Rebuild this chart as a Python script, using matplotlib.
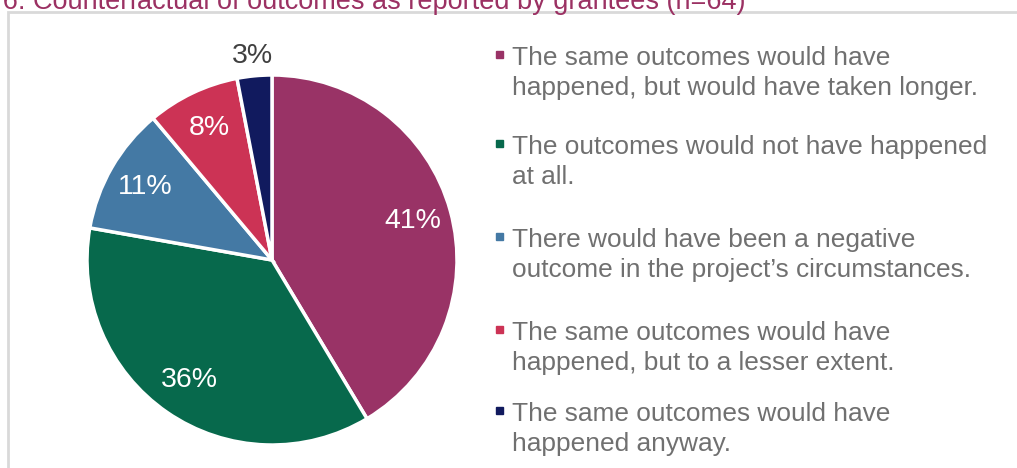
import matplotlib
matplotlib.use('Agg')
import matplotlib.pyplot as plt
import numpy as np
from matplotlib.patches import Rectangle

plt.rcParams['font.family'] = ['Liberation Sans', 'DejaVu Sans']

title = 'Figure 6: Counterfactual of outcomes as reported by grantees (n=64)'
categories = [
    'The same outcomes would have\nhappened, but would have taken longer.',
    'The outcomes would not have happened\nat all.',
    'There would have been a negative\noutcome in the project\u2019s circumstances.',
    'The same outcomes would have\nhappened, but to a lesser extent.',
    'The same outcomes would have\nhappened anyway.',
]
shares = [41, 36, 11, 8, 3]
pct_labels = ['41%', '36%', '11%', '8%', '3%']
colors = ['#993366', '#07694C', '#4479A4', '#CC3355', '#111A5E']

W, H = 1017, 468
fig = plt.figure(figsize=(W / 100, H / 100), dpi=100)

# grey frame, partly cut by the image edges
fig.patches.append(Rectangle((8 / W, -0.1), 1.2, 1 - 12 / H + 0.1,
                             transform=fig.transFigure, fill=False,
                             edgecolor='#D9D9D9', linewidth=2))

fig.text(745 / W, 1 - 9 / H, title, ha='right', va='baseline',
         color='#9B3163', fontsize=19.5)

cx, cy, r = 272, 260, 185
ax = fig.add_axes([(cx - r) / W, (H - cy - r) / H, 2 * r / W, 2 * r / H])
wedges, _ = ax.pie(shares, colors=colors, startangle=90, counterclock=False,
                   wedgeprops=dict(edgecolor='white', linewidth=2.5))
ax.set_xlim(-1, 1)
ax.set_ylim(-1, 1)
ax.set_aspect('auto')

for w, lab in zip(wedges, pct_labels):
    mid = np.deg2rad((w.theta1 + w.theta2) / 2)
    inside = (w.theta2 - w.theta1) > 20
    d = 0.79 if inside else 1.11
    ax.text(d * np.cos(mid), d * np.sin(mid), lab, ha='center', va='center',
            fontsize=20.5, color='white' if inside else '#404040', clip_on=False)

# legend
legend_y = [73, 162, 255, 348, 429]
for y, c, lab in zip(legend_y, colors, categories):
    fig.patches.append(Rectangle((496 / W, 1 - (y - 15) / H), 7 / W, 7 / H,
                                 transform=fig.transFigure, color=c))
    fig.text(512 / W, 1 - y / H, lab, ha='left', va='center', fontsize=18.9,
             color='#707070', linespacing=1.28)

fig.savefig('out.png', dpi=100)
